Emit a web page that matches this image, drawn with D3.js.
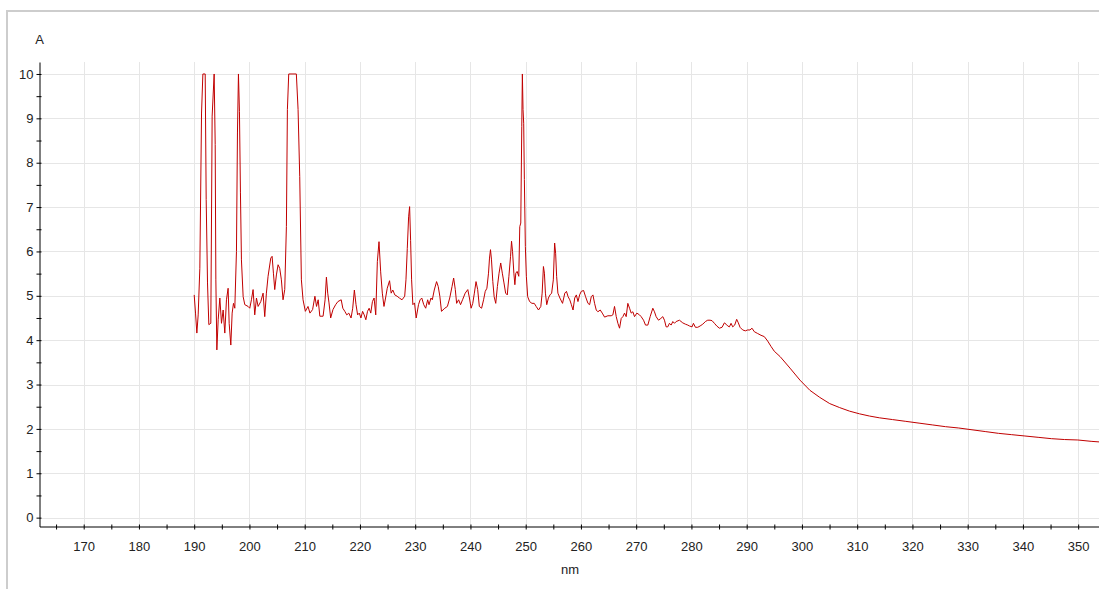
<html>
<head>
<script src="https://d3js.org/d3.v7.min.js"></script>
<style>
  body { margin: 0; background: white; }
  text { font-family: "Liberation Sans", Arial, sans-serif; fill: #222; }
  .grid line { stroke: #e6e6e6; stroke-width: 1; }
  .axis path, .axis line { stroke: black; }
</style>
</head>
<body>
<svg width="1099" height="589"></svg>
<script>

// wavelength (nm) and absorbance (A)
var nm = [
  190.0, 190.24, 190.48, 190.72, 191.02, 191.33, 191.57, 191.99, 192.17, 192.41, 192.65, 193.01, 193.25, 193.61, 193.80, 193.92,
  194.10, 194.34, 194.64, 194.94, 195.24, 195.54, 195.84, 196.14, 196.33, 196.63, 196.87, 197.11, 197.35, 197.65, 197.83, 198.01,
  198.19, 198.37, 198.55, 198.86, 199.16, 199.76, 200.06, 200.36, 200.66, 200.96, 201.27, 201.57, 202.05, 202.47, 202.77, 203.07,
  203.37, 203.86, 204.10, 204.34, 204.58, 204.88, 205.18, 205.48, 205.78, 206.08, 206.39, 206.69, 206.87, 207.11, 208.49, 208.80,
  209.10, 209.40, 209.70, 210.12, 210.60,
  210.95, 211.43, 211.85, 212.14, 212.44, 212.74, 213.33, 213.69, 213.93, 214.17, 214.40, 214.70, 215.12, 215.60, 216.01, 216.61,
  216.90, 217.26, 217.62, 217.98, 218.39, 218.69, 218.99, 219.29, 219.58, 219.88, 220.18, 220.48, 220.77, 221.07, 221.37, 221.67,
  221.96, 222.26, 222.56, 222.86, 223.15, 223.45, 223.75, 224.05, 224.35, 224.64, 224.94, 225.36, 225.65, 225.95, 226.31, 226.73,
  227.14, 227.62, 228.10, 228.33, 228.57, 228.81, 228.99, 229.17, 229.35, 229.58, 229.88, 230.18, 230.60, 230.89, 231.19, 231.55,
  231.90, 232.26, 232.50, 232.86, 233.10, 233.45, 233.87, 234.17, 234.46, 234.76,
  235.36, 235.83, 236.25, 236.67, 236.96, 237.26, 237.50, 237.86, 238.21, 238.57, 239.05, 239.52, 239.82, 240.12, 240.42, 240.71,
  241.01, 241.31, 241.61, 242.02, 242.38, 242.68, 242.98, 243.27, 243.45, 243.63, 243.81, 244.05, 244.29, 244.58, 244.88, 245.18,
  245.48, 245.77, 246.07, 246.37, 246.67, 246.96, 247.26, 247.44, 247.62, 247.86, 248.04, 248.21, 248.45, 248.75, 248.93, 249.11,
  249.29, 249.40, 249.52, 249.64, 249.76, 249.94, 250.12, 250.36, 250.71, 251.13, 251.55, 251.90, 252.32, 252.74, 252.98, 253.21,
  253.39, 253.57, 253.81, 254.11, 254.40, 254.70, 255.00, 255.24, 255.42, 255.60, 255.83, 256.19, 256.67, 257.08, 257.38, 257.68,
  257.98, 258.27, 258.57, 258.87, 259.17, 259.46, 259.76, 260.06,
  260.48, 260.84, 261.27, 261.57, 261.87, 262.17, 262.47, 262.77, 263.07, 263.49, 263.86, 264.28, 264.88, 265.48, 265.78, 266.08,
  266.39, 266.69, 266.99, 267.29, 267.59, 267.89, 268.19, 268.49, 268.80, 269.10, 269.40, 269.70, 270.12, 270.60, 270.90, 271.33,
  271.69, 272.11, 272.53, 273.01, 273.31, 273.61, 274.04, 274.46, 274.82, 275.12, 275.42, 275.72, 276.02, 276.33, 276.63, 276.93,
  277.23, 277.83, 278.43, 278.92, 279.34, 279.64, 280.12, 280.36, 280.72, 281.14, 281.57, 282.05, 282.53, 282.95, 283.37, 283.73,
  284.16, 284.58, 285.06, 285.54, 285.96, 286.27, 286.57, 286.87, 287.17, 287.47, 287.83, 288.19, 288.49, 288.80, 289.28, 289.76,
  290.18, 290.60, 290.96, 291.39, 291.99, 292.59, 293.19, 293.80, 294.40, 295.00,
  296.05, 297.84, 299.64, 301.44, 303.23, 305.03, 306.83, 308.62, 310.42, 312.22, 314.01, 316.41, 318.80, 321.20, 323.59, 325.99,
  328.38, 330.78, 333.17, 335.57, 337.96, 340.36, 342.75, 345.15, 347.54, 349.94, 352.34, 354.5
];
var absorbance = [
  5.02, 4.61, 4.16, 4.57, 5.62, 9.12, 10, 10, 7.17, 5.29, 4.35, 4.38, 9.05, 10, 8.41, 5.36,
  3.78, 4.46, 4.95, 4.38, 4.68, 4.16, 4.91, 5.17, 4.38, 3.89, 4.61, 4.83, 4.72, 6.0, 8.67, 10,
  9.16, 7.32, 5.81, 4.98, 4.8, 4.76, 4.72, 4.91, 5.14, 4.57, 4.95, 4.76, 4.87, 5.06, 4.53, 5.06,
  5.44, 5.85, 5.89, 5.51, 5.14, 5.47, 5.70, 5.62, 5.36, 4.91, 5.14, 6.56, 9.2, 10, 10, 9.2,
  7.69, 5.36, 4.91, 4.65, 4.76,
  4.61, 4.69, 4.99, 4.76, 4.91, 4.54, 4.54, 4.91, 5.42, 5.06, 4.84, 4.50, 4.69, 4.80, 4.87, 4.91,
  4.72, 4.65, 4.57, 4.61, 4.50, 4.72, 5.13, 4.80, 4.57, 4.61, 4.50, 4.65, 4.57, 4.46, 4.65, 4.72,
  4.61, 4.87, 4.95, 4.57, 5.77, 6.22, 5.54, 5.06, 4.76, 4.95, 5.17, 5.34, 5.06, 5.13, 5.02, 4.99,
  4.95, 4.91, 4.99, 5.36, 6.07, 6.78, 7.01, 6.25, 5.36, 4.80, 4.84, 4.50, 4.80, 4.91, 4.95, 4.80,
  4.72, 4.91, 4.80, 4.95, 4.91, 5.13, 5.32, 5.21, 4.99, 4.65,
  4.72, 4.76, 4.95, 5.21, 5.40, 5.14, 4.83, 4.91, 4.80, 4.91, 5.06, 5.14, 4.95, 4.72, 4.83, 5.06,
  5.32, 5.14, 4.76, 4.72, 4.91, 5.10, 5.17, 5.51, 5.85, 6.04, 5.81, 5.32, 4.98, 4.83, 5.21, 5.51,
  5.74, 5.51, 5.29, 5.06, 5.02, 5.44, 5.89, 6.23, 6.00, 5.51, 5.25, 5.51, 5.55, 5.44, 6.56, 6.64,
  8.82, 10, 9.20, 8.89, 7.62, 6.11, 5.44, 4.98, 4.87, 4.83, 4.83, 4.76, 4.68, 4.76, 5.06, 5.66,
  5.51, 5.06, 4.80, 4.95, 5.02, 5.06, 5.36, 6.19, 5.96, 5.44, 5.06, 4.95, 4.83, 5.06, 5.10, 4.98,
  4.91, 4.80, 4.68, 4.95, 5.02, 4.87, 5.02, 5.10,
  5.12, 4.98, 4.83, 4.80, 4.98, 5.02, 4.83, 4.68, 4.64, 4.68, 4.61, 4.52, 4.55, 4.55, 4.57, 4.76,
  4.53, 4.38, 4.27, 4.49, 4.53, 4.61, 4.53, 4.83, 4.72, 4.61, 4.64, 4.53, 4.61, 4.57, 4.53, 4.45,
  4.34, 4.34, 4.53, 4.72, 4.64, 4.53, 4.45, 4.49, 4.53, 4.45, 4.30, 4.30, 4.38, 4.34, 4.42, 4.38,
  4.42, 4.45, 4.39, 4.36, 4.34, 4.32, 4.30, 4.38, 4.29, 4.29, 4.32, 4.36, 4.42, 4.45, 4.45, 4.44,
  4.38, 4.32, 4.27, 4.29, 4.39, 4.36, 4.32, 4.30, 4.38, 4.30, 4.34, 4.47, 4.39, 4.29, 4.23, 4.21,
  4.23, 4.23, 4.27, 4.19, 4.15, 4.11, 4.08, 3.98, 3.86, 3.75,
  3.63, 3.37, 3.10, 2.87, 2.71, 2.57, 2.48, 2.40, 2.34, 2.29, 2.25, 2.21, 2.17, 2.13, 2.09, 2.05,
  2.02, 1.98, 1.94, 1.90, 1.87, 1.84, 1.81, 1.78, 1.76, 1.75, 1.72, 1.70
];

var xTicks = [170, 180, 190, 200, 210, 220, 230, 240, 250, 260, 270, 280, 290, 300, 310, 320, 330, 340, 350];
var xMinor = [165, 175, 185, 195, 205, 215, 225, 235, 245, 255, 265, 275, 285, 295, 305, 315, 325, 335, 345, 355];
var yTicks = [0, 1, 2, 3, 4, 5, 6, 7, 8, 9, 10];
var yMinor = [0.5, 1.5, 2.5, 3.5, 4.5, 5.5, 6.5, 7.5, 8.5, 9.5];

var plotLeft = 39.5, plotRight = 1105.8, plotTop = 62, plotBottom = 526.5;

var xs = d3.scaleLinear().domain([162, 355]).range([plotLeft, plotRight]);
var ys = d3.scaleLinear().domain([-0.2, 10.27]).range([plotBottom, plotTop]);

var svg = d3.select('svg');

// outer frame
svg.append('rect').attr('x', 7).attr('y', 11).attr('width', 1100).attr('height', 600)
  .attr('fill', 'none').attr('stroke', '#cdcdcd').attr('stroke-width', 2);

// grid
var grid = svg.append('g').attr('class', 'grid');
grid.selectAll('line.v').data(xTicks).enter().append('line').attr('class', 'v')
  .attr('x1', function(d) { return Math.round(xs(d)) + 0.5; })
  .attr('x2', function(d) { return Math.round(xs(d)) + 0.5; })
  .attr('y1', plotTop).attr('y2', plotBottom);
grid.selectAll('line.h').data(yTicks).enter().append('line').attr('class', 'h')
  .attr('y1', function(d) { return Math.round(ys(d)) + 0.5; })
  .attr('y2', function(d) { return Math.round(ys(d)) + 0.5; })
  .attr('x1', plotLeft).attr('x2', 1099);

// spectrum
svg.append('clipPath').attr('id', 'clip').append('rect')
  .attr('x', plotLeft).attr('y', plotTop - 2).attr('width', 1099 - plotLeft).attr('height', plotBottom - plotTop);
var line = d3.line().x(function(d, i) { return xs(nm[i]); }).y(function(d) { return ys(d); });
svg.append('path').datum(absorbance).attr('clip-path', 'url(#clip)')
  .attr('d', line).attr('fill', 'none').attr('stroke', '#c00000').attr('stroke-width', 1);

// x axis
var xAxis = d3.axisBottom(xs).tickValues(xTicks).tickFormat(d3.format('d'))
  .tickSizeInner(3).tickSizeOuter(0).tickPadding(12);
var gx = svg.append('g').attr('class', 'axis').attr('transform', 'translate(0,' + plotBottom + ')').call(xAxis);
gx.selectAll('.tick line').attr('y1', -2);
svg.append('g').attr('class', 'axis').attr('transform', 'translate(0,' + plotBottom + ')')
  .call(d3.axisBottom(xs).tickValues(xMinor).tickFormat('').tickSizeInner(3).tickSizeOuter(0))
  .call(function(g) { g.select('.domain').remove(); g.selectAll('.tick line').attr('y1', -2); });

// y axis
var yAxis = d3.axisLeft(ys).tickValues(yTicks).tickFormat(d3.format('d'))
  .tickSizeInner(3).tickSizeOuter(0).tickPadding(3);
var gy = svg.append('g').attr('class', 'axis').attr('transform', 'translate(' + plotLeft + ',0)').call(yAxis);
gy.selectAll('.tick line').attr('x1', 2);
svg.append('g').attr('class', 'axis').attr('transform', 'translate(' + plotLeft + ',0)')
  .call(d3.axisLeft(ys).tickValues(yMinor).tickFormat('').tickSizeInner(3).tickSizeOuter(0))
  .call(function(g) { g.select('.domain').remove(); g.selectAll('.tick line').attr('x1', 2); });

svg.selectAll('.axis text').style('font-size', '13px').style('font-family', '"Liberation Sans", Arial, sans-serif').attr('fill', '#222');

// axis titles
svg.append('text').attr('x', 39.5).attr('y', 44).attr('text-anchor', 'middle').style('font-size', '13px').text('A');
svg.append('text').attr('x', 570).attr('y', 574).attr('text-anchor', 'middle').style('font-size', '13px').text('nm');

</script>
</body>
</html>
